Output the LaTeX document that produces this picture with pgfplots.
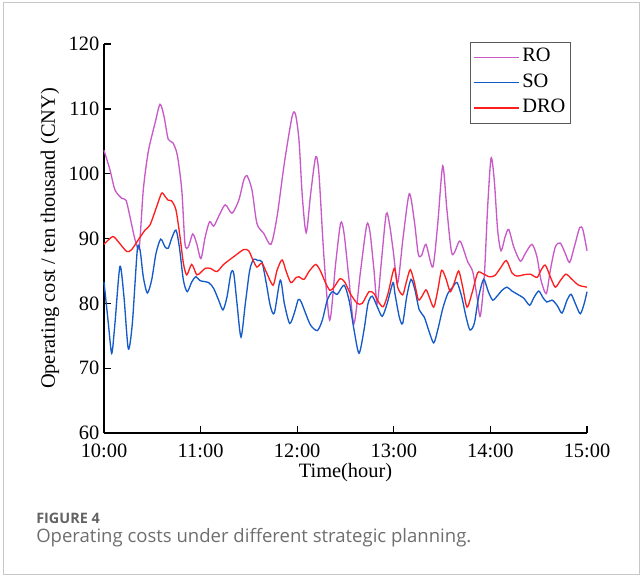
\documentclass[border=0pt]{standalone}
\usepackage{pgfplots}
\pgfplotsset{compat=1.18}
\usepackage{fontspec}
\setmainfont{Liberation Serif}
\newfontfamily\capfont{Open Sans}
\definecolor{ROc}{RGB}{200,90,200}
\definecolor{SOc}{RGB}{20,90,200}
\definecolor{DROc}{RGB}{255,30,30}
\definecolor{capgray}{RGB}{110,110,110}
\begin{document}
\begin{tikzpicture}[x=0.75pt,y=0.75pt]
\useasboundingbox (-104,-143) rectangle (537,433);
\draw[line width=1.1pt,color=black!22] (-100.7,430.3) rectangle (535.5,-141.3);
\node[anchor=base west,inner sep=0pt,font=\capfont\fontsize{10.8}{12}\selectfont\bfseries,text=capgray!90!black] at (-68,-90) {FIGURE 4};
\node[anchor=base west,inner sep=0pt,font=\capfont\fontsize{13.9}{16}\selectfont,text=capgray] at (-68,-109) {Operating costs under different strategic planning.};
\begin{axis}[
  at={(0,0)}, anchor=south west,
  scale only axis, width=362.25pt, height=291.75pt,
  xmin=0, xmax=300, ymin=60, ymax=120,
  axis x line*=bottom, axis y line*=left,
  axis line style={line width=1.1pt},
  major tick style={line width=1.0pt,black},
  major tick length=5pt,
  tick align=inside,
  xtick={0,60,120,180,240,300},
  xticklabels={10:00,11:00,12:00,13:00,14:00,15:00},
  ytick={60,70,80,90,100,110,120},
  /pgf/number format/assume math mode=true,
  tick label style={font=\fontsize{15.3}{18}\selectfont},
  xticklabel style={yshift=-5pt},
  xlabel={Time(hour)},
  ylabel={Operating cost / ten thousand (CNY)},
  every axis x label/.style={at={(axis description cs:0.5,-0.101)},anchor=center,font=\fontsize{15.3}{18}\selectfont},
  every axis y label/.style={at={(axis description cs:-0.112,0.5)},rotate=90,anchor=center,font=\fontsize{15.3}{18}\selectfont},
  legend style={at={(0.9669,1.006)},anchor=north east,draw=black!65,
    font=\fontsize{15.3}{18}\selectfont,inner sep=2pt,
    nodes={text height=11pt,text depth=4pt,inner ysep=2pt}},
  legend cell align=left,
  legend image code/.code={\draw[#1] (0pt,0pt) -- (34pt,0pt);},
  clip=false,
]
\addplot[color=ROc, line width=1.0pt, smooth, tension=0.45] coordinates {
(0,103.6)(3.7,100.6)(6.8,97.5)(11.0,96.2)(13.7,95.9)(16.1,93.4)(19.3,89.8)(21.9,88.7)
(24.4,97.5)(27.5,103.4)(31.7,107.8)(34.8,110.7)(37.3,108.8)(39.9,105.3)(42.7,104.8)
(45.5,102.9)(48.3,97.5)(50.3,89.2)(52.4,88.7)(55.1,90.7)(57.6,89.2)(60.2,86.9)
(62.9,90.3)(65.6,92.6)(68.1,91.9)(71.2,93.4)(75.3,95.2)(79.5,93.9)(83.7,95.9)
(86.8,99.0)(88.8,99.7)(91.9,97.5)(95.0,92.3)(99.2,90.8)(103.7,89.1)(107.5,93.4)
(112.0,101.6)(116.8,108.8)(118.9,109.2)(121.1,105.2)(123.2,96.4)(125.6,90.9)
(128.4,97.0)(131.5,102.6)(133.5,100.0)(136.6,87.2)(140.2,77.4)(143.9,86.2)
(147.0,92.4)(149.1,90.8)(152.2,83.6)(155.3,76.9)(159.4,85.1)(163.2,92.1)(165.2,91.0)
(167.7,85.1)(169.7,80.0)(172.2,86.2)(175.3,93.8)(177.4,92.1)(179.7,88.0)(182.4,83.1)
(185.7,90.0)(189.6,96.9)(192.7,92.8)(195.2,87.6)(197.3,87.4)(200.0,89.1)(204.2,85.6)
(207.3,92.3)(210.4,101.2)(213.0,94.4)(216.2,87.6)(220.7,89.6)(222.8,88.7)(225.9,86.4)
(229.0,84.9)(231.7,81.0)(233.7,78.0)(236.2,84.1)(238.3,94.9)(240.4,102.4)(242.4,99.0)
(244.5,91.3)(246.6,88.1)(249.2,90.3)(251.4,91.4)(254.5,88.7)(258.6,86.5)(261.7,87.7)
(265.8,89.1)(268.9,87.2)(271.4,83.6)(274.7,81.5)(277.2,85.1)(280.3,88.7)(283.4,89.3)
(286.5,87.7)(289.2,86.3)(292.1,88.7)(295.5,91.7)(297.5,91.3)(300,88.1)
};
\addlegendentry{RO}
\addplot[color=SOc, line width=1.0pt, smooth, tension=0.45] coordinates {
(0,83.3)(2.7,76.9)(4.8,72.3)(6.8,76.9)(9.9,85.7)(12.4,81.0)(15.1,73.0)(17.6,76.9)
(20.7,88.3)(22.4,88.2)(24.4,84.1)(26.9,81.6)(29.6,83.6)(32.3,87.7)(35.2,89.9)
(37.9,88.7)(39.9,88.5)(42.0,90.0)(44.7,91.3)(46.8,88.7)(49.3,83.6)(51.7,81.8)
(54.5,83.3)(57.1,84.1)(59.6,83.5)(65.0,83.2)(68.1,82.3)(71.2,80.5)(73.9,79.0)
(76.4,81.0)(78.9,84.7)(80.6,84.6)(82.6,80.0)(85.1,74.8)(87.8,80.0)(90.5,85.1)
(93.0,86.8)(95.5,86.6)(98.1,86.4)(100.8,83.1)(103.3,79.6)(105.8,78.5)(109.5,83.6)
(112.0,80.0)(115.3,76.9)(118.2,78.5)(120.7,80.6)(122.5,80.2)(125.3,78.4)(128.4,76.6)
(132.5,75.8)(135.6,77.4)(138.7,80.5)(141.8,81.8)(144.9,81.4)(149.1,82.8)(152.2,80.5)
(155.3,75.9)(158.4,72.3)(161.5,75.9)(164.0,80.0)(166.6,81.1)(169.7,79.5)(172.8,78.0)
(175.9,80.0)(179.5,83.2)(180.7,81.5)(183.4,77.9)(185.5,76.9)(188.0,81.0)(190.7,83.7)
(193.2,82.0)(195.8,79.0)(198.9,77.9)(202.0,75.6)(204.8,73.9)(207.3,75.9)(210.4,79.2)
(213.5,81.5)(216.6,82.5)(219.3,83.2)(222.2,81.0)(224.9,77.9)(227.3,75.9)(230.0,76.9)
(232.7,81.0)(235.8,83.7)(238.7,81.8)(241.4,80.5)(244.1,81.1)(247.2,82.0)(250.3,82.5)
(253.4,81.9)(257.5,81.3)(260.7,80.8)(264.4,79.7)(266.8,80.8)(270.0,81.9)(272.6,80.9)
(275.1,80.2)(278.3,80.5)(281.4,79.7)(284.5,78.5)(287.6,80.5)(290.1,81.4)(292.7,80.0)
(295.8,78.4)(298.3,80.0)(300,81.8)
};
\addlegendentry{SO}
\addplot[color=DROc, line width=1.0pt, smooth, tension=0.45] coordinates {
(0,89.1)(5.4,90.3)(8.9,89.5)(14.1,88.0)(17.2,88.3)(21.3,89.8)(25.5,91.3)(28.6,92.1)
(32.7,94.9)(35.8,97.0)(37.9,96.5)(39.9,95.9)(42.0,95.8)(44.7,94.4)(47.2,90.3)
(49.3,86.2)(51.4,84.4)(54.5,86.0)(57.6,84.4)(60.2,84.8)(62.9,85.4)(66.0,85.4)
(70.2,84.9)(74.3,86.0)(80.6,87.2)(86.8,88.3)(89.9,88.1)(92.5,86.7)(95.0,85.6)
(98.1,86.2)(101.2,84.6)(105.0,82.8)(107.5,85.1)(110.6,86.7)(113.2,84.9)(116.1,83.2)
(119.4,84.0)(121.1,84.1)(124.2,83.7)(127.3,84.9)(131.5,86.0)(134.6,84.9)(137.7,83.1)
(140.4,82.0)(142.9,82.5)(146.6,83.8)(149.5,83.3)(153.2,81.4)(157.3,80.0)(160.4,80.0)
(164.6,81.8)(167.7,81.5)(170.8,80.1)(173.5,79.5)(176.4,81.5)(180.3,85.4)(182.4,82.5)
(185.5,81.3)(187.6,83.1)(190.2,85.2)(192.7,83.3)(195.2,80.6)(197.3,81.0)(200.0,82.1)
(202.0,81.0)(204.8,79.4)(207.3,82.0)(209.7,85.1)(212.4,83.8)(215.1,81.8)(217.6,83.2)
(220.3,85.0)(222.8,82.5)(225.5,79.4)(228.6,81.6)(232.1,84.7)(235.2,84.6)(239.3,84.1)
(242.8,84.3)(246.1,85.4)(249.9,86.6)(253.4,84.7)(256.5,84.2)(260.7,84.4)(264.8,84.5)
(268.9,84.0)(271.4,85.1)(274.1,85.9)(277.2,84.1)(280.3,82.5)(283.4,83.5)(286.9,84.5)
(290.7,83.7)(294.8,82.8)(300,82.5)
};
\addlegendentry{DRO}
\end{axis}
\end{tikzpicture}
\end{document}
